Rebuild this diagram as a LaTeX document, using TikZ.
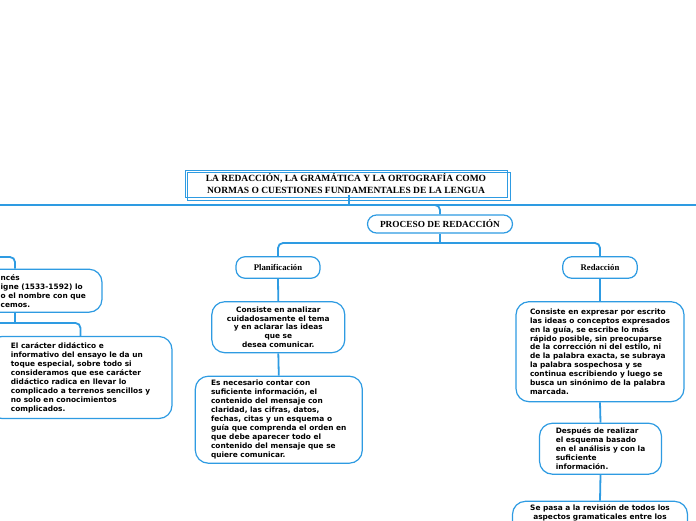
\documentclass[tikz,border=0pt]{standalone}
\usepackage{fontspec}
\setmainfont{Liberation Serif}
\newfontfamily\vfont{DejaVu Sans}
\definecolor{mb}{HTML}{2E9BE2}
\tikzset{
  conn/.style={draw=mb, line width=1.8pt},
  mainline/.style={draw=mb, line width=2.6pt},
  sbox/.style={draw=mb, line width=1.2pt, fill=white, rounded corners=13pt, inner sep=0pt,
    font=\vfont\bfseries\fontsize{7.4}{8.95}\selectfont},
  txt/.style={inner sep=0pt, font=\vfont\bfseries\fontsize{7.4}{8.95}\selectfont},
  tbox/.style={draw=mb, line width=1.2pt, fill=white, rounded corners=9pt, inner sep=0pt,
    font=\bfseries\fontsize{8.7}{10}\selectfont},
}
\begin{document}
\begin{tikzpicture}[x=1pt,y=-1pt]
\useasboundingbox (0,0) rectangle (696,520);
\clip (0,0) rectangle (696,520);
% title
\node[draw=mb, line width=1pt, fill=white, minimum width=322pt, minimum height=27pt, inner sep=0pt,
  font=\bfseries\fontsize{9.5}{12}\selectfont, align=center] (title) at (346,183.5)
  {LA REDACCIÓN, LA GRAMÁTICA Y LA ORTOGRAFÍA COMO\\NORMAS O CUESTIONES FUNDAMENTALES DE LA LENGUA};
\draw[mb, line width=1pt] ([shift={(3,3)}]title.north west) rectangle ([shift={(3,3)}]title.south east);
% main line
\coordinate (ml) at (0,205);
\coordinate (mr) at (696,205);
\coordinate (tj) at (349,205);
\draw[conn] ([yshift=3pt]title.south -| tj) -- (tj);
\draw[mainline] (ml) -- (mr);
% proceso
\node[tbox, minimum width=145pt, minimum height=18pt, font=\bfseries\fontsize{9.3}{10}\selectfont] (proc) at (440,224) {PROCESO DE REDACCIÓN};
\coordinate (pj) at (428,205);
\draw[conn, rounded corners=5pt] (pj) -| (proc.north);
\node[tbox, minimum width=84pt, minimum height=21.5pt] (plan) at (278,267.5) {Planificación};
\node[tbox, minimum width=74.5pt, minimum height=21.5pt] (red) at (600,267.5) {Redacción};
\coordinate (pb) at (440,243);
\draw[conn] (proc.south) -- (pb);
\draw[conn, rounded corners=5pt] (pb) -| (plan.north);
\draw[conn, rounded corners=5pt] (pb) -| (red.north);
% planificacion branch
\node[sbox, minimum width=133pt, minimum height=51pt, align=center] (pb1) at (278.3,327.2)
  {Consiste en analizar\\cuidadosamente el tema\\y en aclarar las ideas\\que se\\desea comunicar.};
\node[sbox, minimum width=167pt, minimum height=87pt, align=left] (pb2) at (278.8,419.7)
  {Es necesario contar con\\suficiente información, el\\contenido del mensaje con\\claridad, las cifras, datos,\\fechas, citas y un esquema o\\guía que comprenda el orden en\\que debe aparecer todo el\\contenido del mensaje que se\\quiere comunicar.};
\draw[conn] (plan.south) -- (pb1.north);
\draw[conn] (pb1.south) -- (pb2.north);
% redaccion branch
\node[sbox, minimum width=168pt, minimum height=100pt, align=left] (rb1) at (600,351.7)
  {Consiste en expresar por escrito\\las ideas o conceptos expresados\\en la guía, se escribe lo más\\rápido posible, sin preocuparse\\de la corrección ni del estilo, ni\\de la palabra exacta, se subraya\\la palabra sospechosa y se\\continua escribiendo y luego se\\busca un sinónimo de la palabra\\marcada.};
\node[sbox, minimum width=122pt, minimum height=51pt, align=left] (desp) at (600.5,448.7)
  {Después de realizar\\el esquema basado\\en el análisis y con la\\suficiente\\información.};
\node[sbox, minimum width=175pt, minimum height=60pt, anchor=north] (sp) at (600,500.7) {};
\node[txt, anchor=north, align=center] (sptxt) at (600,504.5)
  {Se pasa a la revisión de todos los\\aspectos gramaticales entre los};
\draw[conn] (red.south) -- (rb1.north);
\draw[conn] (rb1.south) -- (desp.north);
\draw[conn] (desp.south) -- (sp.north);
% left branch
\node[sbox, minimum width=174pt, minimum height=43pt] (lb1) at (15,290.7) {};
\node[txt, anchor=base west] (lt1) at (0.5,280.5) {ncés};
\node[txt, anchor=base west] (lt2) at (0.5,289.5) {igne (1533-1592) lo};
\node[txt, anchor=base west] (lt3) at (0.5,298.5) {o el nombre con que};
\node[txt, anchor=base west] (lt4) at (0.5,307.3) {cemos.};
\node[sbox, minimum width=183pt, minimum height=82pt, align=left] (lb2) at (80.5,377.5)
  {El carácter didáctico e\\informativo del ensayo le da un\\toque especial, sobre todo si\\consideramos que ese carácter\\didáctico radica en llevar lo\\complicado a terrenos sencillos y\\no solo en conocimientos\\complicados.};
\coordinate (l1) at (0,257);
\coordinate (l2) at (0,323);
\draw[conn, rounded corners=5pt] (l1) -| (lb1.north);
\draw[conn] (lb1.south) -- (lb1.south |- l2);
\draw[conn, rounded corners=5pt] (l2) -| (lb2.north);
\end{tikzpicture}
\end{document}
